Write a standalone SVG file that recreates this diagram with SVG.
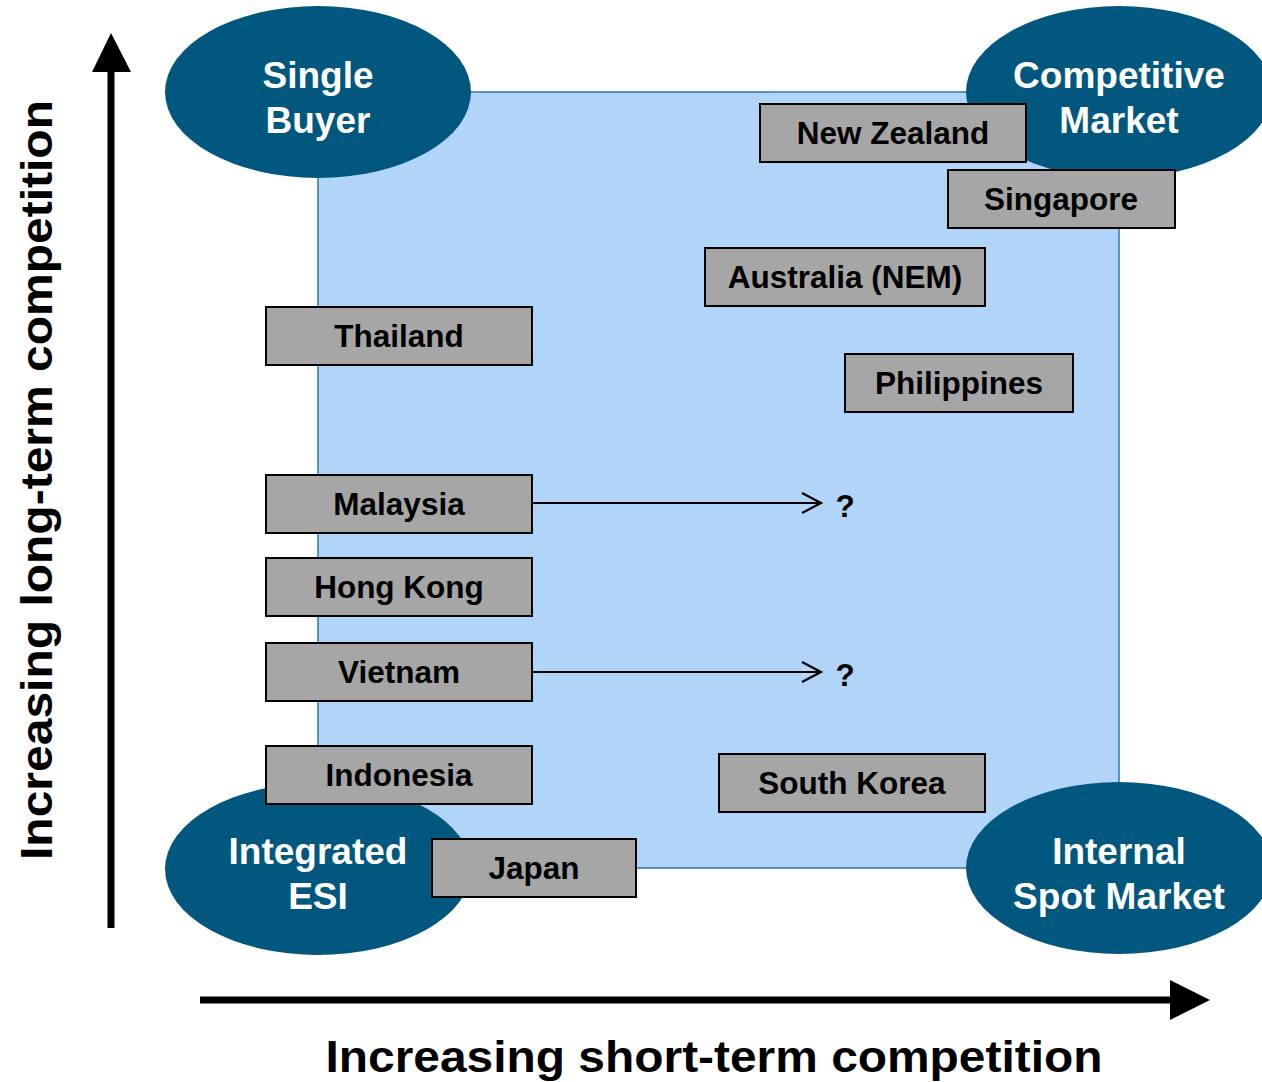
<svg xmlns="http://www.w3.org/2000/svg" width="1262" height="1082" viewBox="0 0 1262 1082">
<style>
.ell{fill:#02577F}
.et{font-family:"Liberation Sans",Arial,sans-serif;font-weight:bold;font-size:37px;fill:#fff;text-anchor:middle}
.box{fill:#A6A6A6;stroke:#000;stroke-width:2}
.bt{font-family:"Liberation Sans",Arial,sans-serif;font-weight:bold;font-size:31.5px;fill:#000;text-anchor:middle}
.ax{font-family:"Liberation Sans",Arial,sans-serif;font-weight:bold;font-size:45px;fill:#000;text-anchor:middle}
.con{stroke:#000;stroke-width:2;fill:none}
</style>
<defs>
<marker id="open" markerWidth="24" markerHeight="24" refX="20" refY="11" orient="auto" markerUnits="userSpaceOnUse">
<path d="M1,1 L20,11 L1,21" fill="none" stroke="#000" stroke-width="2.2"/>
</marker>
</defs>
<rect width="1262" height="1082" fill="#fff"/>
<rect id="field" x="318" y="92" width="801" height="776" fill="#B1D5F9" stroke="#2E75B6" stroke-width="1.5"/>
<g id="axes">
<line x1="111" y1="928" x2="111" y2="70" stroke="#000" stroke-width="7"/>
<polygon points="92,72 111,33 131,72" fill="#000"/>
<line x1="200" y1="1000" x2="1172" y2="1000" stroke="#000" stroke-width="7"/>
<polygon points="1170,980 1210,1000 1170,1020" fill="#000"/>
<text class="ax" transform="translate(52,480) rotate(-90)" textLength="760" lengthAdjust="spacingAndGlyphs">Increasing long-term competition</text>
<text class="ax" x="714" y="1072" textLength="777" lengthAdjust="spacingAndGlyphs">Increasing short-term competition</text>
</g>
<g id="single-buyer"><ellipse class="ell" cx="318" cy="92" rx="153" ry="86"/><text class="et" x="318" y="88">Single</text><text class="et" x="318" y="133">Buyer</text></g>
<g id="competitive-market"><ellipse class="ell" cx="1119" cy="92" rx="153" ry="86"/><text class="et" x="1119" y="88">Competitive</text><text class="et" x="1119" y="133">Market</text></g>
<g id="integrated-esi"><ellipse class="ell" cx="318" cy="869" rx="153" ry="86"/><text class="et" x="318" y="864">Integrated</text><text class="et" x="318" y="909">ESI</text></g>
<g id="internal-spot"><ellipse class="ell" cx="1119" cy="868" rx="153" ry="86"/><text class="et" x="1119" y="864">Internal</text><text class="et" x="1119" y="909">Spot Market</text></g>
<g id="connectors">
<line class="con" x1="533" y1="503" x2="821" y2="503" marker-end="url(#open)"/>
<line class="con" x1="533" y1="672" x2="821" y2="672" marker-end="url(#open)"/>
</g>
<text class="bt" x="845" y="517" font-size="29">?</text>
<text class="bt" x="845" y="686" font-size="29">?</text>
<g id="new-zealand"><rect class="box" x="760" y="104" width="266" height="58"/><text class="bt" x="893" y="144">New Zealand</text></g>
<g id="singapore"><rect class="box" x="948" y="170" width="227" height="58"/><text class="bt" x="1061" y="210">Singapore</text></g>
<g id="australia"><rect class="box" x="705" y="248" width="280" height="58"/><text class="bt" x="845" y="288">Australia (NEM)</text></g>
<g id="thailand"><rect class="box" x="266" y="307" width="266" height="58"/><text class="bt" x="399" y="347">Thailand</text></g>
<g id="philippines"><rect class="box" x="845" y="354" width="228" height="58"/><text class="bt" x="959" y="394">Philippines</text></g>
<g id="malaysia"><rect class="box" x="266" y="475" width="266" height="58"/><text class="bt" x="399" y="515">Malaysia</text></g>
<g id="hong-kong"><rect class="box" x="266" y="558" width="266" height="58"/><text class="bt" x="399" y="598">Hong Kong</text></g>
<g id="vietnam"><rect class="box" x="266" y="643" width="266" height="58"/><text class="bt" x="399" y="683">Vietnam</text></g>
<g id="indonesia"><rect class="box" x="266" y="746" width="266" height="58"/><text class="bt" x="399" y="786">Indonesia</text></g>
<g id="south-korea"><rect class="box" x="719" y="754" width="266" height="58"/><text class="bt" x="852" y="794">South Korea</text></g>
<g id="japan"><rect class="box" x="432" y="839" width="204" height="58"/><text class="bt" x="534" y="879">Japan</text></g>
</svg>
